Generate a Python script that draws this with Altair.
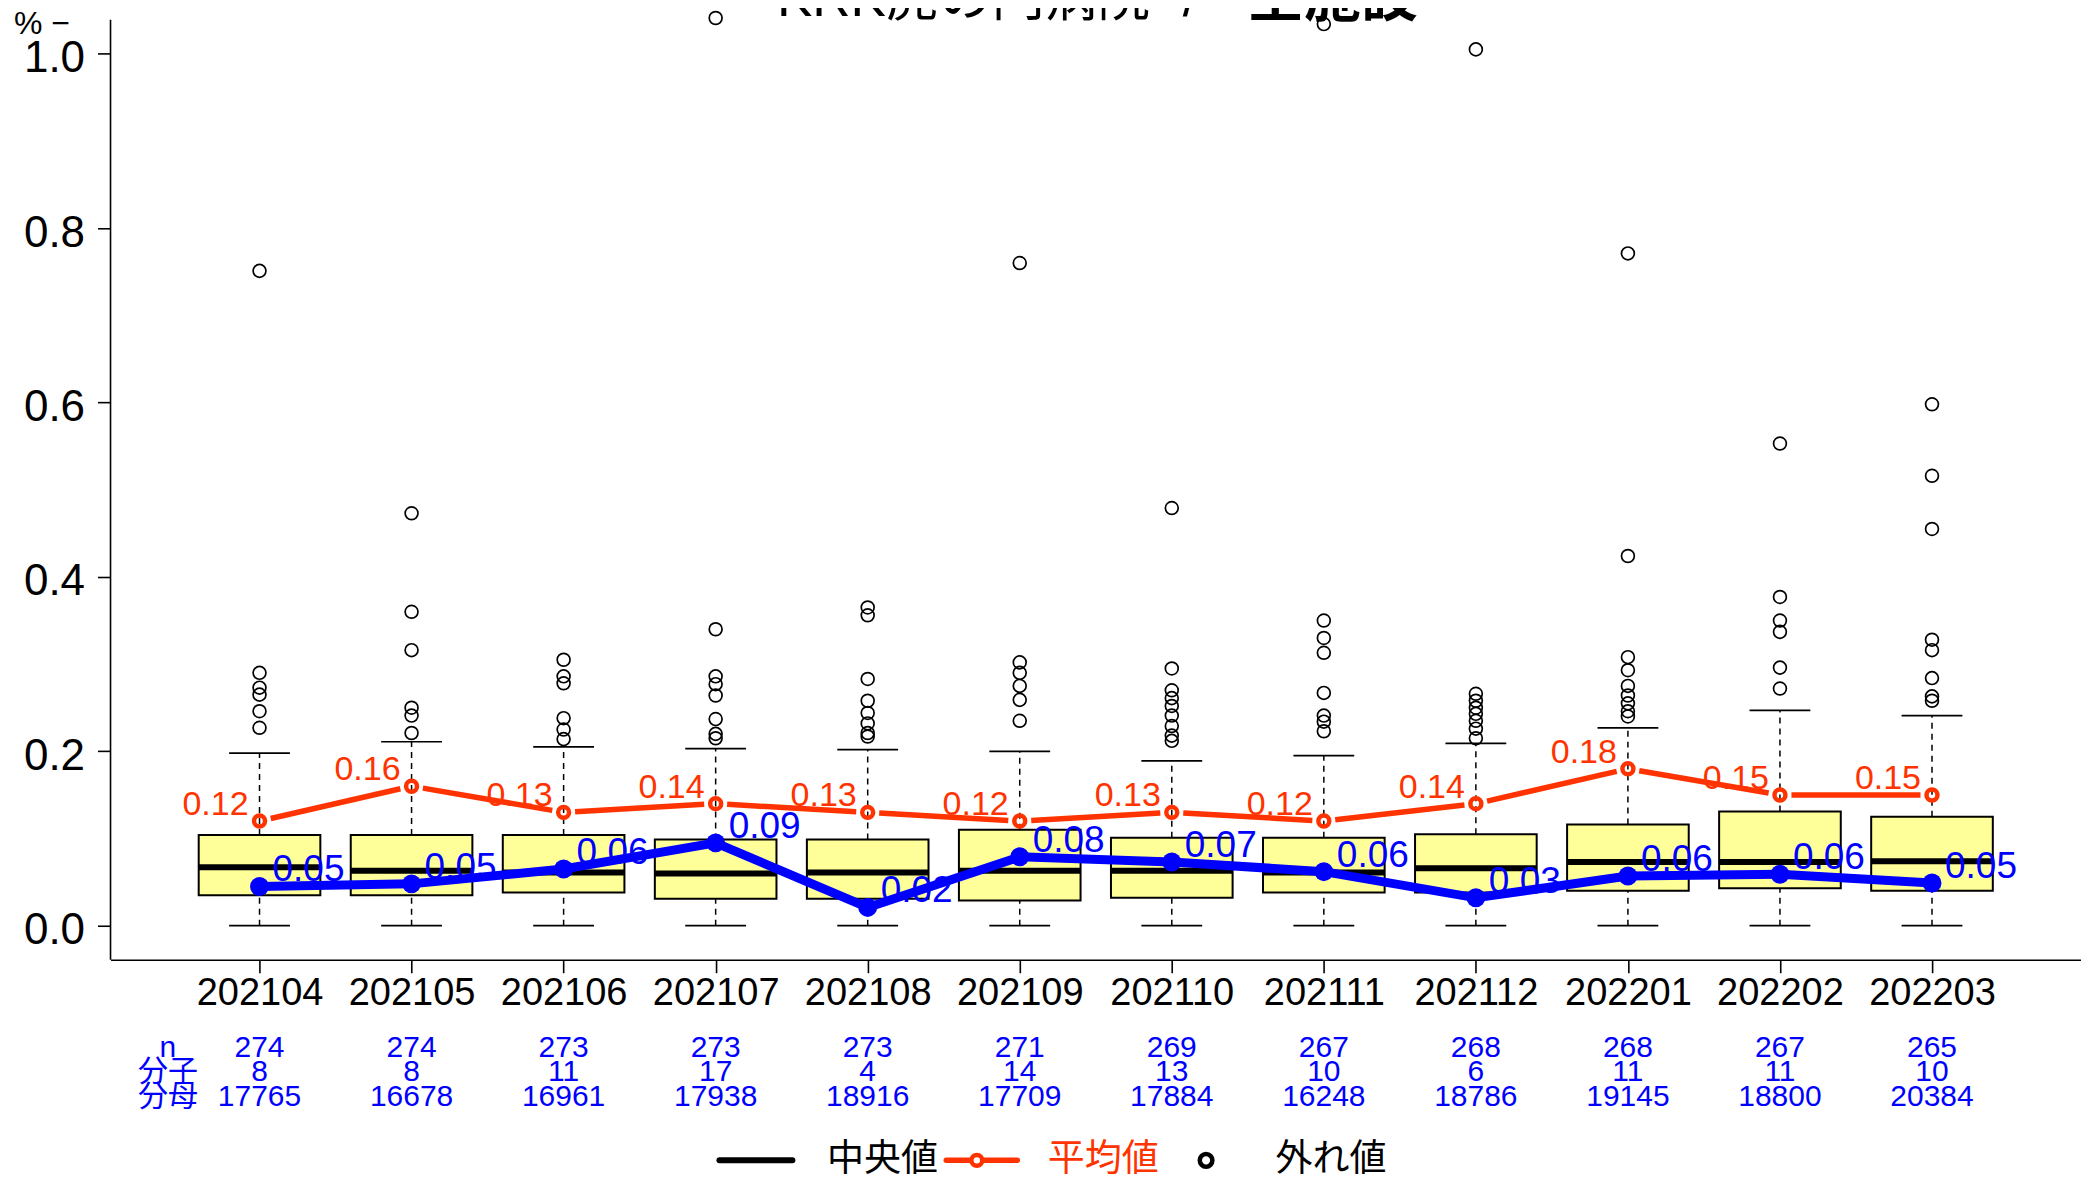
import json
import math
import altair as alt
import pandas as pd

# ---------------- data ----------------
months = ["202104", "202105", "202106", "202107", "202108", "202109",
          "202110", "202111", "202112", "202201", "202202", "202203"]
pos = list(range(1, 13))
q1 = [0.035, 0.035, 0.038, 0.031, 0.031, 0.029, 0.032, 0.038, 0.038, 0.040, 0.043, 0.040]
med = [0.067, 0.063, 0.061, 0.060, 0.061, 0.063, 0.063, 0.061, 0.066, 0.073, 0.073, 0.074]
q3 = [0.104, 0.104, 0.104, 0.099, 0.099, 0.110, 0.101, 0.101, 0.105, 0.116, 0.131, 0.125]
whi_hi = [0.198, 0.211, 0.205, 0.203, 0.202, 0.200, 0.189, 0.195, 0.209, 0.227, 0.247, 0.241]
whi_lo = [0.0] * 12
outliers = [
    [0.751, 0.290, 0.273, 0.265, 0.246, 0.227],
    [0.473, 0.360, 0.316, 0.250, 0.241, 0.221],
    [0.305, 0.286, 0.278, 0.238, 0.225, 0.214],
    [1.041, 0.340, 0.286, 0.277, 0.264, 0.237, 0.220, 0.215],
    [0.365, 0.356, 0.283, 0.258, 0.244, 0.232, 0.221, 0.217],
    [0.760, 0.302, 0.290, 0.275, 0.259, 0.235],
    [0.479, 0.295, 0.270, 0.261, 0.252, 0.241, 0.229, 0.218, 0.212],
    [1.034, 0.350, 0.330, 0.313, 0.267, 0.241, 0.234, 0.223],
    [1.005, 0.266, 0.258, 0.250, 0.243, 0.235, 0.226, 0.215],
    [0.771, 0.424, 0.308, 0.293, 0.275, 0.264, 0.255, 0.246, 0.240],
    [0.553, 0.377, 0.350, 0.337, 0.296, 0.272],
    [0.598, 0.516, 0.455, 0.328, 0.316, 0.284, 0.263, 0.258],
]
means = [0.12, 0.16, 0.13, 0.14, 0.13, 0.12, 0.13, 0.12, 0.14, 0.18, 0.15, 0.15]
mean_labels = ["0.12", "0.16", "0.13", "0.14", "0.13", "0.12",
               "0.13", "0.12", "0.14", "0.18", "0.15", "0.15"]
hosp = [0.045, 0.048, 0.065, 0.095, 0.021, 0.079, 0.073, 0.062, 0.032, 0.057, 0.059, 0.049]
hosp_labels = ["0.05", "0.05", "0.06", "0.09", "0.02", "0.08",
               "0.07", "0.06", "0.03", "0.06", "0.06", "0.05"]
n_vals = [274, 274, 273, 273, 273, 271, 269, 267, 268, 268, 267, 265]
numer = [8, 8, 11, 17, 4, 14, 13, 10, 6, 11, 11, 10]
denom = [17765, 16678, 16961, 17938, 18916, 17709, 17884, 16248, 18786, 19145, 18800, 20384]
title_main = "KRK虎の門病院"
title_sep = "/"
title_sub = "全施設"
legend_labels = ["中央値", "平均値", "外れ値"]
row_labels = ["n", "分子", "分母"]

# ---------------- style ----------------
# the plot frame is extended upward past the top of the picture (hidden), so
# that its top edge is not drawn; OFF is that hidden extension in pixels
OFF = 31.3
W, H = 1972, 940.7 + OFF
XDOM = [0.02, 12.98]
YDOM = [-0.039, 1.039 + OFF * 1.078 / 940.7]
RED = "#FF3300"
BLUE = "#0000FF"
BOXFILL = "#FFFF99"
FONT = "Liberation Sans, Noto Sans CJK JP, sans-serif"

box_df = pd.DataFrame(dict(pos=pos, month=months, q1=q1, med=med, q3=q3,
                           hi=whi_hi, lo=whi_lo))
out_df = pd.DataFrame([(p, v) for p, vs in zip(pos, outliers) for v in vs],
                      columns=["pos", "val"])
mean_df = pd.DataFrame(dict(pos=pos, val=means, label=mean_labels))
hosp_df = pd.DataFrame(dict(pos=pos, val=hosp, label=hosp_labels))

# type="b" style segments with gaps around the points
pxx = W / (XDOM[1] - XDOM[0])
pxy = H / (YDOM[1] - YDOM[0])
GAP = 11.5
segs = []
for i in range(len(pos) - 1):
    x1, y1, x2, y2 = pos[i], means[i], pos[i + 1], means[i + 1]
    L = math.hypot((x2 - x1) * pxx, (y2 - y1) * pxy)
    f = GAP / L
    segs.append(dict(xa=x1 + f * (x2 - x1), ya=y1 + f * (y2 - y1),
                     xb=x2 - f * (x2 - x1), yb=y2 - f * (y2 - y1)))
seg_df = pd.DataFrame(segs)

xs = alt.Scale(domain=XDOM, nice=False, zero=False)
ys = alt.Scale(domain=YDOM, nice=False, zero=False)
label_expr = json.dumps(months) + "[datum.value - 1]"
xaxis = alt.Axis(orient="bottom", values=pos, labelExpr=label_expr, title=None, grid=False,
                 domainColor="black", domainWidth=1.6, tickColor="black",
                 tickWidth=1.6, tickSize=13, labelFontSize=38, labelColor="black",
                 labelPadding=2, labelFlush=False, labelOverlap=False, labelFont=FONT)
yaxis = alt.Axis(orient="left", values=[0, 0.2, 0.4, 0.6, 0.8, 1.0], format=".1f",
                 title=None, grid=False, domain=False,
                 tickColor="black", tickWidth=1.6, tickSize=13, labelFontSize=44,
                 labelColor="black", labelPadding=13, labelOffset=5, labelFlush=False,
                 labelFont=FONT)


def X(f):
    return alt.X(f + ":Q", scale=xs, axis=xaxis)


def Y(f):
    return alt.Y(f + ":Q", scale=ys, axis=yaxis)


one = pd.DataFrame({"k": [0]})

base = alt.Chart(box_df).transform_calculate(
    xl="datum.pos - 0.2", xr="datum.pos + 0.2",
    bl="datum.pos - 0.4", br="datum.pos + 0.4")

y_line = alt.Chart(one).mark_rule(color="black", strokeWidth=1.6).encode(
    x=alt.value(0), y=alt.value(OFF), y2=alt.value(H))
whisk_up = base.mark_rule(color="black", strokeWidth=1.5, strokeDash=[6, 5]).encode(
    x=X("pos"), y=Y("q3"), y2="hi:Q")
whisk_lo = base.mark_rule(color="black", strokeWidth=1.5, strokeDash=[6, 5]).encode(
    x=X("pos"), y=Y("lo"), y2="q1:Q")
cap_hi = base.mark_rule(color="black", strokeWidth=1.7).encode(
    x=X("xl"), x2="xr:Q", y=Y("hi"))
cap_lo = base.mark_rule(color="black", strokeWidth=1.7).encode(
    x=X("xl"), x2="xr:Q", y=Y("lo"))
boxes = base.mark_rect(fill=BOXFILL, stroke="black", strokeWidth=2).encode(
    x=X("bl"), x2="br:Q", y=Y("q1"), y2="q3:Q")
medians = base.mark_rule(color="black", strokeWidth=6).encode(
    x=X("bl"), x2="br:Q", y=Y("med"))
outl = alt.Chart(out_df).mark_point(shape="circle", filled=False, color="black",
                                    size=165, strokeWidth=1.7, opacity=1).encode(
    x=X("pos"), y=Y("val"))

mean_lines = alt.Chart(seg_df).mark_rule(color=RED, strokeWidth=5.5).encode(
    x=X("xa"), x2="xb:Q", y=Y("ya"), y2="yb:Q")
mean_pts = alt.Chart(mean_df).mark_point(shape="circle", filled=False, color=RED,
                                         size=120, strokeWidth=4.5, opacity=1).encode(
    x=X("pos"), y=Y("val"))
mean_lbl = alt.Chart(mean_df).mark_text(align="right", baseline="alphabetic", dx=-11,
                                        dy=-6, fontSize=34, color=RED, font=FONT).encode(
    x=X("pos"), y=Y("val"), text="label:N")

hosp_line = alt.Chart(hosp_df).mark_line(color=BLUE, strokeWidth=9).encode(
    x=X("pos"), y=Y("val"))
hosp_pts = alt.Chart(hosp_df).mark_circle(color=BLUE, size=360, opacity=1).encode(
    x=X("pos"), y=Y("val"))
hosp_lbl = alt.Chart(hosp_df).mark_text(align="left", baseline="alphabetic", dx=13,
                                        dy=-5, fontSize=37, color=BLUE, font=FONT).encode(
    x=X("pos"), y=Y("val"), text="label:N")

# table below the axis
tab_df = pd.DataFrame(dict(pos=pos, n=[str(v) for v in n_vals],
                           a=[str(v) for v in numer], b=[str(v) for v in denom]))
row_y = [1029 + OFF, 1053 + OFF, 1078 + OFF]
table_layers = []
for fld, yy in zip(["n", "a", "b"], row_y):
    table_layers.append(
        alt.Chart(tab_df).mark_text(fontSize=30, color=BLUE, font=FONT,
                                    baseline="middle", align="center").encode(
            x=X("pos"), y=alt.value(yy), text=fld + ":N"))
for lab, yy in zip(row_labels, row_y):
    table_layers.append(
        alt.Chart(one).mark_text(text=lab, fontSize=30, color=BLUE, font=FONT,
                                 baseline="middle", align="center").encode(
            x=alt.value(57.4), y=alt.value(yy)))

# legend
LY = 1141.5 + OFF
leg = [
    alt.Chart(one).mark_rule(color="black", strokeWidth=6, strokeCap="round").encode(
        x=alt.value(609.4), x2=alt.value(682.4), y=alt.value(LY)),
    alt.Chart(one).mark_text(text=legend_labels[0], fontSize=37, color="black", font=FONT,
                             align="left", baseline="middle").encode(
        x=alt.value(717), y=alt.value(LY)),
    alt.Chart(one).mark_rule(color=RED, strokeWidth=5.5, strokeCap="round").encode(
        x=alt.value(836.4), x2=alt.value(907.4), y=alt.value(LY)),
    alt.Chart(one).mark_point(shape="circle", filled=True, fill="white", stroke=RED,
                              size=120, strokeWidth=4.5, opacity=1).encode(
        x=alt.value(867), y=alt.value(LY)),
    alt.Chart(one).mark_text(text=legend_labels[1], fontSize=37, color=RED, font=FONT,
                             align="left", baseline="middle").encode(
        x=alt.value(938), y=alt.value(LY)),
    alt.Chart(one).mark_point(shape="circle", filled=False, color="black", size=160,
                              strokeWidth=4.5, opacity=1).encode(
        x=alt.value(1096.4), y=alt.value(LY)),
    alt.Chart(one).mark_text(text=legend_labels[2], fontSize=37, color="black", font=FONT,
                             align="left", baseline="middle").encode(
        x=alt.value(1166), y=alt.value(LY)),
]

# title (mostly cut off at the top) and the "%" mark
extra = [
    alt.Chart(one).mark_text(text=title_main, fontSize=53, color="black", font=FONT,
                             align="left", baseline="alphabetic").encode(
        x=alt.value(666.9), y=alt.value(OFF - 4)),
    alt.Chart(one).mark_text(text=title_sep, fontSize=53, color="black", font=FONT,
                             align="center", baseline="alphabetic").encode(
        x=alt.value(1080.4), y=alt.value(OFF - 4)),
    alt.Chart(one).mark_text(text=title_sub, fontSize=57, color="black", font=FONT,
                             fontWeight="bold", align="left", baseline="alphabetic").encode(
        x=alt.value(1137.4), y=alt.value(OFF - 4)),
    alt.Chart(one).mark_text(text="%  \u2212", fontSize=32, color="black", font=FONT,
                             align="left", baseline="middle").encode(
        x=alt.value(-96.6), y=alt.value(OFF + 4)),
]

chart = alt.layer(
    y_line, whisk_up, whisk_lo, cap_hi, cap_lo, boxes, medians, outl,
    mean_lines, mean_pts, mean_lbl, hosp_line, hosp_pts, hosp_lbl,
    *table_layers, *leg, *extra
).properties(
    width=W, height=H,
    autosize=alt.AutoSizeParams(type="none"),
    padding={"left": 102.6, "top": 11.3 - OFF, "right": 0, "bottom": 220},
).configure(font=FONT).configure_view(stroke="transparent", strokeWidth=0,
                                      strokeOpacity=0)

chart.save("out.html", embed_options={"renderer": "svg", "actions": False})
